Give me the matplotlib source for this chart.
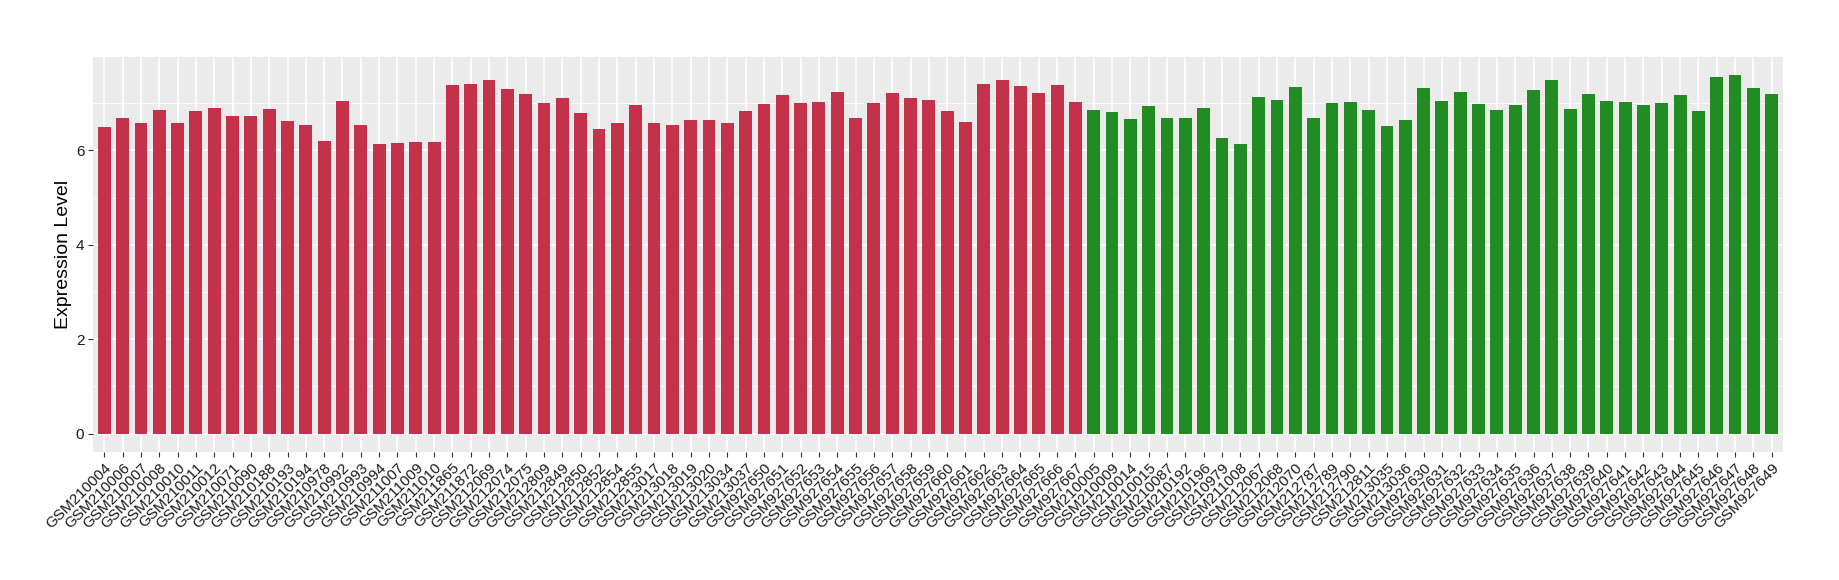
import matplotlib
matplotlib.use("Agg")
import matplotlib.pyplot as plt
import numpy as np

plt.rcParams['font.family'] = ['Liberation Sans', 'DejaVu Sans']

group1_samples = [
    "GSM210004", "GSM210006", "GSM210007", "GSM210008", "GSM210010", "GSM210011",
    "GSM210012", "GSM210071", "GSM210090", "GSM210188", "GSM210193", "GSM210194",
    "GSM210978", "GSM210992", "GSM210993", "GSM210994", "GSM211007", "GSM211009",
    "GSM211010", "GSM211865", "GSM211872", "GSM212069", "GSM212074", "GSM212075",
    "GSM212809", "GSM212849", "GSM212850", "GSM212852", "GSM212854", "GSM212855",
    "GSM213017", "GSM213018", "GSM213019", "GSM213020", "GSM213034", "GSM213037",
    "GSM927650", "GSM927651", "GSM927652", "GSM927653", "GSM927654", "GSM927655",
    "GSM927656", "GSM927657", "GSM927658", "GSM927659", "GSM927660", "GSM927661",
    "GSM927662", "GSM927663", "GSM927664", "GSM927665", "GSM927666", "GSM927667",
]
group1_values = [
    6.50, 6.69, 6.57, 6.86, 6.57, 6.84, 6.90, 6.73, 6.73, 6.88, 6.61, 6.54,
    6.20, 7.05, 6.54, 6.14, 6.16, 6.18, 6.18, 7.39, 7.41, 7.48, 7.29, 7.18,
    6.99, 7.10, 6.78, 6.44, 6.57, 6.95, 6.57, 6.54, 6.65, 6.65, 6.57, 6.84,
    6.97, 7.16, 7.01, 7.03, 7.24, 6.69, 7.01, 7.22, 7.10, 7.07, 6.84, 6.59,
    7.41, 7.48, 7.35, 7.22, 7.39, 7.03,
]
group2_samples = [
    "GSM210005", "GSM210009", "GSM210014", "GSM210015", "GSM210087", "GSM210192",
    "GSM210196", "GSM210979", "GSM211008", "GSM212067", "GSM212068", "GSM212070",
    "GSM212787", "GSM212789", "GSM212790", "GSM212811", "GSM213035", "GSM213036",
    "GSM927630", "GSM927631", "GSM927632", "GSM927633", "GSM927634", "GSM927635",
    "GSM927636", "GSM927637", "GSM927638", "GSM927639", "GSM927640", "GSM927641",
    "GSM927642", "GSM927643", "GSM927644", "GSM927645", "GSM927646", "GSM927647",
    "GSM927648", "GSM927649",
]
group2_values = [
    6.86, 6.82, 6.67, 6.93, 6.69, 6.69, 6.90, 6.25, 6.14, 7.12, 7.07, 7.33,
    6.69, 7.01, 7.03, 6.86, 6.52, 6.63, 7.31, 7.05, 7.24, 6.97, 6.86, 6.95,
    7.27, 7.48, 6.88, 7.18, 7.05, 7.03, 6.95, 7.01, 7.16, 6.84, 7.54, 7.60,
    7.31, 7.18,
]
y_ticks = [0, 2, 4, 6]
y_label = "Expression Level"
color1 = "#C4314A"
color2 = "#228B22"

labels = group1_samples + group2_samples
values = group1_values + group2_values
colors = [color1] * len(group1_samples) + [color2] * len(group2_samples)
n = len(labels)
x = np.arange(1, n + 1)

fig = plt.figure(figsize=(18.4, 5.8), dpi=100)
ax = fig.add_axes([93.3 / 1840, 1 - 451.7 / 580, (1782.7 - 93.3) / 1840, (451.7 - 56.7) / 580])
ax.set_facecolor("#EBEBEB")

ymax = max(values)
ax.set_ylim(-0.05 * ymax, ymax * 1.05)
ax.set_xlim(0.4, n + 0.6)

# grid
for yv in np.arange(1, 8, 2):
    ax.axhline(yv, color="white", lw=0.6, zorder=0)
for yv in y_ticks:
    ax.axhline(yv, color="white", lw=1.2, zorder=0)
for xv in x:
    ax.axvline(xv, color="white", lw=1.2, zorder=0)

ax.bar(x, values, width=0.7, color=colors, zorder=2)

ax.set_xticks(x)
ax.set_xticklabels(labels, rotation=45, ha="right", va="top", rotation_mode="anchor",
                   fontsize=11, color="#1A1A1A")
ax.set_yticks(y_ticks)
ax.set_yticklabels([str(t) for t in y_ticks], fontsize=11, color="#1A1A1A")
ax.tick_params(axis="both", length=3.5, width=0.8, color="#333333", pad=3)
ax.set_ylabel(y_label, fontsize=14, labelpad=3)
for s in ax.spines.values():
    s.set_visible(False)

fig.savefig("out.png", dpi=100)
